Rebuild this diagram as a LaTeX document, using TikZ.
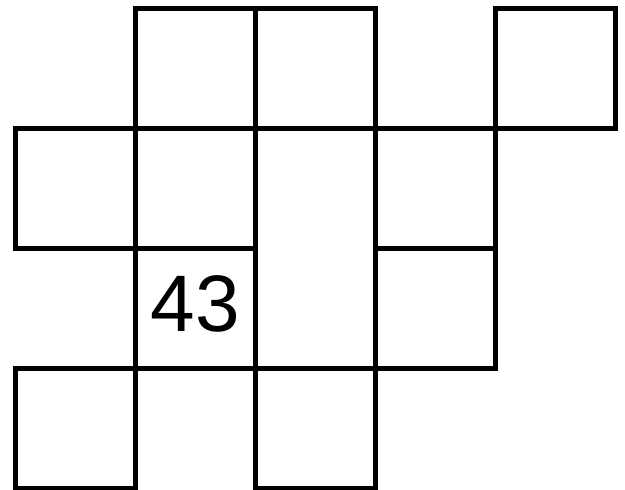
\documentclass[tikz,border=0pt]{standalone}
\usepackage{fontspec}
\setmainfont{Liberation Sans}
\tikzset{
  cell/.style={
    draw=black,
    line width=2.4pt,
    minimum width=2cm,
    minimum height=2cm,
    inner sep=0pt,
    outer sep=0pt,
    font=\fontsize{38}{40}\selectfont
  },
  tallcell/.style={cell, minimum height=4cm}
}

\begin{document}
\begin{tikzpicture}
  \useasboundingbox (-0.258,-0.008) rectangle (10.158,8.142);
  % top row
  \node[cell] (c01) at (3,7) {};
  \node[cell] (c02) at (5,7) {};
  \node[cell] (c04) at (9,7) {};
  % second row
  \node[cell] (c10) at (1,5) {};
  \node[cell] (c11) at (3,5) {};
  \node[tallcell] (c12) at (5,4) {};
  \node[cell] (c13) at (7,5) {};
  % third row
  \node[cell] (c21) at (3,3) {};
  \node[cell] (c23) at (7,3) {};
  % bottom row
  \node[cell] (c30) at (1,1) {};
  \node[cell] (c32) at (5,1) {};
  % number
  \node[font=\fontsize{38}{40}\selectfont, inner sep=0pt] (n43) at (3.0,3.07) {43};
\end{tikzpicture}
\end{document}
